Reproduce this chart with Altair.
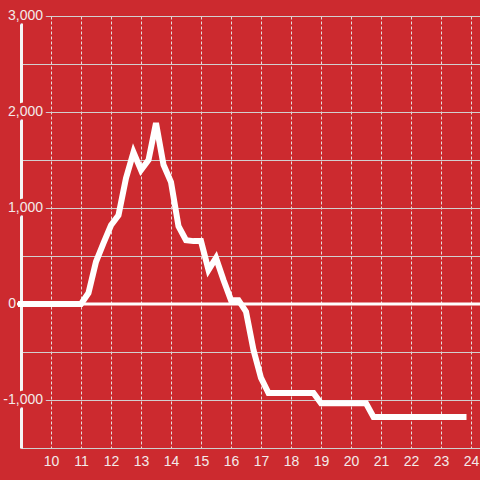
import altair as alt
import pandas as pd
import jinja2
from altair.utils import html as alt_html

BG = "#cc2a2f"
TXT = "#f3eaea"
FONT = "Liberation Sans"

# ---- data ----
hours = [9, 11, 11.25, 11.5, 11.75, 12, 12.25, 12.5, 12.75, 13, 13.25, 13.5,
         13.75, 14, 14.25, 14.5, 14.75, 15, 15.25, 15.5, 15.75, 16, 16.25,
         16.5, 16.75, 17, 17.25, 18.75, 19, 20.5, 20.75, 23.75]
values = [0, 0, 115, 440, 635, 820, 925, 1310, 1580, 1395, 1500, 1885,
          1450, 1270, 810, 665, 655, 655, 355, 480, 250, 40, 40,
          -80, -480, -770, -927, -927, -1035, -1035, -1177, -1177]

x_ticks = [10, 11, 12, 13, 14, 15, 16, 17, 18, 19, 20, 21, 22, 23, 24]
y_grid = [-1500, -1000, -500, 0, 500, 1000, 1500, 2000, 2500, 3000]
y_label_values = [3000, 2000, 1000, -1000]
y_label_texts = ["3,000", "2,000", "1,000", "-1,000"]
zero_label = ["0"]

W, H = 459, 432

df = pd.DataFrame({"hour": hours, "value": values})
labels_df = pd.DataFrame({"v": y_label_values, "t": y_label_texts})
zero_df = pd.DataFrame({"v": [0], "t": zero_label})

xs = alt.Scale(domain=[9, 24.3], nice=False, zero=False)
ys = alt.Scale(domain=[-1500, 3000], nice=False, zero=False)

x_axis = alt.Axis(values=x_ticks, grid=True, gridDash=[3, 2], gridColor="#e6dcdc",
                  gridWidth=1, domain=True, domainColor="#cfcfcf", domainWidth=1,
                  ticks=False, tickSize=0, labelColor=TXT, labelFontSize=14,
                  labelFont=FONT, labelPadding=6, labelAngle=0, format="d",
                  title=None, zindex=0)
y_axis = alt.Axis(values=y_grid, grid=True, gridColor="#d2cfcf", gridWidth=1,
                  labels=False, ticks=False, tickSize=0, domain=True,
                  domainColor="#f5f5f5", domainWidth=3, title=None, zindex=0)

line = alt.Chart(df).mark_line(color="white", strokeWidth=6, strokeCap="square").encode(
    x=alt.X("hour:Q", scale=xs, axis=x_axis),
    y=alt.Y("value:Q", scale=ys, axis=y_axis),
)

zero_rule = alt.Chart(zero_df).mark_rule(color="white", strokeWidth=3).encode(
    y=alt.Y("v:Q", scale=ys, axis=y_axis),
    x=alt.value(-4),
    x2=alt.value(W),
)

halo = alt.Chart(labels_df).mark_text(
    align="right", baseline="middle", fontSize=14, font=FONT,
    fill=BG, stroke=BG, strokeWidth=7, strokeJoin="round"
).encode(
    x=alt.value(22),
    y=alt.Y("v:Q", scale=ys, axis=y_axis),
    text="t:N",
)

ylabels = alt.Chart(labels_df).mark_text(
    align="right", baseline="middle", fontSize=14, font=FONT, color=TXT
).encode(
    x=alt.value(22),
    y=alt.Y("v:Q", scale=ys, axis=y_axis),
    text="t:N",
)

zlabel = alt.Chart(zero_df).mark_text(
    align="right", baseline="middle", fontSize=14, font=FONT, color=TXT
).encode(
    x=alt.value(-5),
    y=alt.Y("v:Q", scale=ys, axis=y_axis),
    text="t:N",
)

chart = alt.layer(line, zero_rule, halo, ylabels, zlabel).properties(
    width=W, height=H, background=BG,
    padding={"left": 21, "top": 16, "right": 0, "bottom": 32},
    autosize=alt.AutoSizeParams(type="none"),
).configure_view(stroke=None)

_std = alt_html.TEMPLATES["standard"]


class _RedPage(jinja2.Template):
    def render(self, *args, **kwargs):
        out = _std.render(*args, **kwargs)
        style = "<style>html,body{background:%s;margin:0;overflow:hidden;}</style>" % BG
        return out.replace("<head>", "<head>" + style, 1)


chart.save("out.html", embed_options={"renderer": "svg", "actions": False},
           template=_RedPage(""))
